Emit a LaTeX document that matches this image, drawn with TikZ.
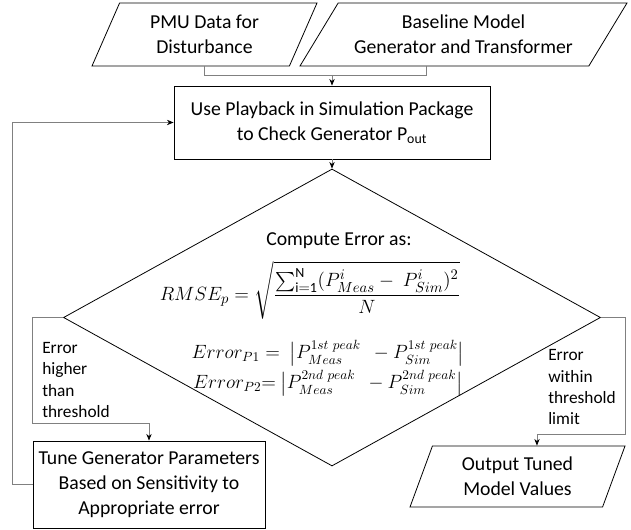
\documentclass[tikz,border=0pt]{standalone}
\usepackage{fontspec}
\setmainfont{Carlito}
\usepackage{amsmath}
\usetikzlibrary{arrows.meta}
\usetikzlibrary{shapes.geometric}
\usetikzlibrary{positioning}

\newcommand{\boxfont}{\fontsize{14.8}{18.75}\selectfont}
\newcommand{\labelfont}{\fontsize{13}{16}\selectfont}
\newcommand{\mathfont}{\fontsize{15}{18}\selectfont}
\newcommand{\errfont}{\fontsize{14.5}{17}\selectfont}

\tikzset{
  procbox/.style={rectangle, draw=black, line width=0.6pt, align=center, font=\boxfont},
  iobox/.style={trapezium, trapezium stretches body, draw=black, line width=0.6pt,
                align=center, font=\boxfont, inner sep=0pt},
  decbox/.style={diamond, draw=black, line width=0.6pt, inner sep=0pt},
  link/.style={draw=gray, line width=0.6pt},
  flow/.style={link, -{Stealth[black, length=5pt, width=4pt]}},
  branchlabel/.style={align=left, inner sep=0pt, font=\labelfont},
}

\begin{document}
\begin{tikzpicture}[x=0.75pt, y=-0.75pt]
	\useasboundingbox (0,0) rectangle (631,530);

	% input, process and decision blocks
	\node[iobox, trapezium left angle=54.5, trapezium right angle=125.5,
	      minimum width=168.75pt, minimum height=47.25pt] (pmu) at (204.5,34.5)
	      {PMU Data for\\Disturbance};
	\node[iobox, trapezium left angle=45.5, trapezium right angle=134.5,
	      minimum width=245.25pt, minimum height=47.25pt] (base) at (463.5,34.5)
	      {Baseline Model\\Generator and Transformer};
	\node[procbox, minimum width=237pt, minimum height=54.75pt] (play) at (332,122.5)
	      {Use Playback in Simulation Package\\to Check Generator P\textsubscript{out}};
	\node[decbox, minimum width=402.75pt, minimum height=222.75pt] (check) at (332,317.5) {};
	\node[procbox, minimum width=174pt, minimum height=65.25pt] (tune) at (149,484.5)
	      {Tune Generator Parameters\\Based on Sensitivity to\\Appropriate error};
	\node[iobox, trapezium left angle=60, trapezium right angle=120,
	      minimum width=161.25pt, minimum height=45.75pt] (out) at (517.5,476.5)
	      {Output Tuned\\Model Values};

	% text inside the decision
	\node[font=\boxfont, inner sep=0pt] (calc) at (339,241) {Compute Error as:};
	\node[font=\mathfont, inner sep=0pt] (rmse) at (310,290)
	      {$RMSE_p = \sqrt{\dfrac{\sum\nolimits_{\mathrm{i=1}}^{\mathrm{N}}(P^{i}_{Meas} -\ P^{i}_{Sim})^2}{N}}$};
	\node[font=\errfont, inner sep=0pt] (errone) at (328,353)
	      {$Error_{P1} =\ \bigl|P^{1st\ peak}_{Meas}\ \ - P^{1st\ peak}_{Sim}\bigr|$};
	\node[font=\errfont, inner sep=0pt] (errtwo) at (328,383)
	      {$Error_{P2}{=}\ \bigl|P^{2nd\ peak}_{Meas}\ \ - P^{2nd\ peak}_{Sim}\bigr|$};

	% branch labels
	\node[branchlabel, anchor=west] (hilabel) at (42,380) {Error\\higher\\than\\threshold};
	\node[branchlabel, anchor=west] (lolabel) at (548,387.5) {Error\\within\\threshold\\limit};

	% connectors
	\coordinate (merge) at (332,75);
	\coordinate (lowturn) at (32,423);
	\coordinate (highturn) at (625,434);
	\draw[link] (pmu.south) |- (merge);
	\draw[link] ([xshift=-28pt]base.south) |- (merge);
	\draw[flow] (merge) -- (play);
	\draw[flow] (play) -- (check);
	\draw[flow] (check.west) -| (lowturn) -| (tune.north);
	\draw[flow] (check.east) -| (highturn) -| ([xshift=14.6pt]out.north);
	\draw[flow] (tune.west) -- ++(-20,0) |- (play.west);
\end{tikzpicture}
\end{document}
